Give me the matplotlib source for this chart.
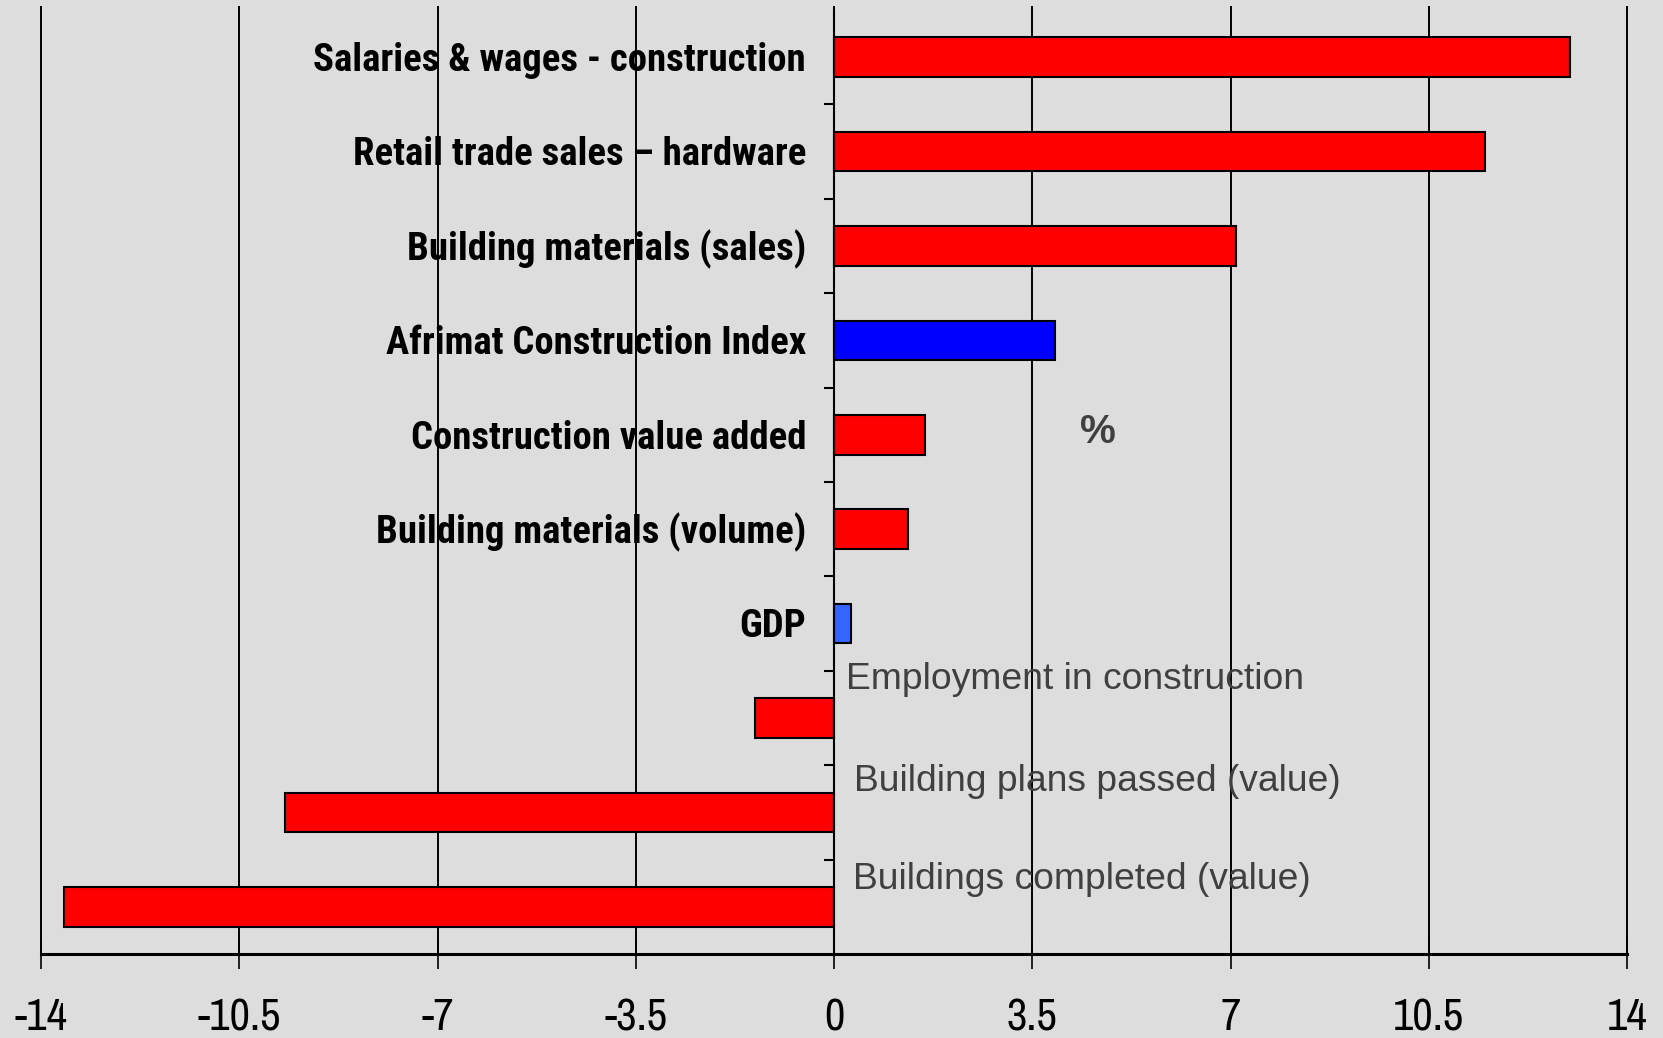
import matplotlib
matplotlib.use("Agg")
import matplotlib.pyplot as plt
from matplotlib import font_manager as fm
import numpy as np

categories = [
    "Salaries & wages - construction",
    "Retail trade sales \u2013 hardware",
    "Building materials (sales)",
    "Afrimat Construction Index",
    "Construction value added",
    "Building materials (volume)",
    "GDP",
    "Employment in construction",
    "Building plans passed (value)",
    "Buildings completed (value)",
]
values = [13.0, 11.5, 7.1, 3.9, 1.6, 1.3, 0.3, -1.4, -9.7, -13.6]
bar_colors = ["#ff0000", "#ff0000", "#ff0000", "#0000ff", "#ff0000",
              "#ff0000", "#3366ff", "#ff0000", "#ff0000", "#ff0000"]
xticks = [-14, -10.5, -7, -3.5, 0, 3.5, 7, 10.5, 14]
xtick_labels = ["-14", "-10.5", "-7", "-3.5", "0", "3.5", "7", "10.5", "14"]

# layout for negative-bar labels (baseline offset from bar, x start)
neg_label_dy = {7: -0.31, 8: -0.23, 9: -0.19}
neg_label_x = {7: 0.21, 8: 0.36, 9: 0.34}

# ---- pick a condensed (Arial Narrow-like) family if available ----
avail = {}
for f in fm.fontManager.ttflist:
    avail.setdefault(f.name, set()).add(int(f.weight) if str(f.weight).isdigit() else 400)
prefs = ["Liberation Sans Narrow", "Arial Narrow", "Archivo Narrow",
         "Roboto Condensed", "PT Sans Narrow", "Open Sans Condensed",
         "Sofia Sans Condensed", "Encode Sans Condensed", "Fira Sans Condensed"]
NARROW = None
NARROW_BOLD = None
STRETCH = "normal"
for p in prefs:
    if p in avail:
        if NARROW is None:
            NARROW = p
        if NARROW_BOLD is None and any(w >= 600 for w in avail[p]):
            NARROW_BOLD = p
if NARROW is None:
    NARROW, STRETCH = "DejaVu Sans", "condensed"
if NARROW_BOLD is None:
    NARROW_BOLD = NARROW
REG = ["Liberation Sans", "DejaVu Sans"]

bg = "#dddddd"
W, H = 1663, 1038
fig = plt.figure(figsize=(W / 100, H / 100), dpi=100, facecolor=bg)
ax = fig.add_axes([41 / W, (H - 954) / H, (1627 - 41) / W, (954 - 10) / H])
ax.set_facecolor(bg)
renderer = fig.canvas.get_renderer()


def fit_size(text, target_px, **kw):
    t = fig.text(0, 0, text, fontsize=20, **kw)
    w = t.get_window_extent(renderer).width
    t.remove()
    return 20 * target_px / w


bold_size = fit_size(categories[0], 492, fontfamily=[NARROW_BOLD, "DejaVu Sans"],
                     fontweight="bold", fontstretch=STRETCH)
tick_size = fit_size("-10.5", 83, fontfamily=[NARROW, "DejaVu Sans"],
                     fontstretch=STRETCH)

y = np.arange(len(categories))
ax.barh(y, values, height=0.42, color=bar_colors, edgecolor="black",
        linewidth=1.5, zorder=3)

ax.set_xlim(-14, 14)
ax.set_ylim(len(categories) - 0.5, -0.5)

ax.set_xticks(xticks)
ax.set_xticklabels(xtick_labels)
for lab in ax.get_xticklabels():
    lab.set_fontfamily([NARROW, "DejaVu Sans"])
    lab.set_fontstretch(STRETCH)
    lab.set_fontsize(tick_size)
ax.tick_params(axis="x", direction="inout", length=22, width=1.2, pad=21,
               colors="black")
for xv in xticks:
    ax.plot([xv, xv], [-0.53, len(categories) - 0.5], color="black", lw=1.4,
            zorder=1, clip_on=False)

ax.set_yticks(np.arange(0.5, len(categories) - 0.5, 1.0))
ax.set_yticklabels([])
ax.tick_params(axis="y", direction="out", length=7.5, width=1.5)

for s in ["top", "right"]:
    ax.spines[s].set_visible(False)
ax.spines["left"].set_position(("data", 0))
ax.spines["left"].set_linewidth(1.5)
ax.spines["left"].set_zorder(4)
ax.spines["bottom"].set_linewidth(2.2)

# cap height in data units for vertical centring of bold labels
px_per_unit = (954 - 10) / len(categories)
for i, (cat, v) in enumerate(zip(categories, values)):
    if v >= 0:
        cap = 0.716 * bold_size * 100 / 72 / px_per_unit
        ax.text(-0.494, i + cap / 2, cat, ha="right", va="baseline",
                fontsize=bold_size, fontweight="bold",
                fontfamily=[NARROW_BOLD, "DejaVu Sans"], fontstretch=STRETCH,
                color="black", zorder=5)
    else:
        ax.text(neg_label_x[i], i + neg_label_dy[i], cat, ha="left",
                va="baseline", fontsize=26.8, fontfamily=REG, color="#404040",
                zorder=2)

ax.text(4.66, 3.97, "%", ha="center", va="center", fontsize=29,
        fontweight="bold", fontfamily=REG, color="#404040", zorder=5)

fig.savefig("out.png", dpi=100, facecolor=bg)
